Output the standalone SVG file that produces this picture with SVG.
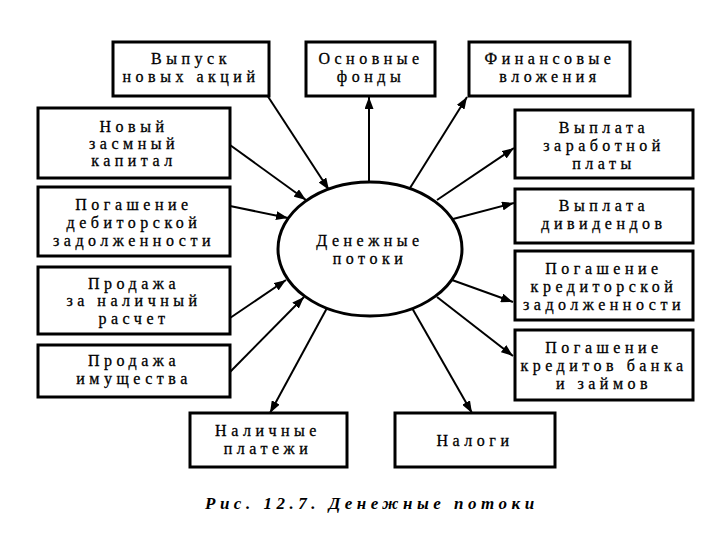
<svg xmlns="http://www.w3.org/2000/svg" width="720" height="540" viewBox="0 0 720 540" font-family="Liberation Serif, Times New Roman, serif">
<style>
.box{fill:#fff;stroke:#000;stroke-width:3}
.t{font-size:16px;letter-spacing:4.5px;text-anchor:middle;fill:#000;stroke:#000;stroke-width:0.3}
.c{stroke:#000;stroke-width:2;fill:none}
.cap{font-size:17px;font-weight:bold;font-style:italic;letter-spacing:4.5px;fill:#000}
</style>
<defs>
<marker id="ah" viewBox="0 0 12 9" refX="12" refY="4.5" markerWidth="12" markerHeight="9" markerUnits="userSpaceOnUse" orient="auto">
<path d="M0,0 L12,4.5 L0,9 Z" fill="#000"/>
</marker>
</defs>
<rect width="720" height="540" fill="#fff"/>
<g id="connectors">
<path class="c" d="M267,95 L329,190" marker-end="url(#ah)"/>
<path class="c" d="M369,182 L369,97" marker-end="url(#ah)"/>
<path class="c" d="M410,188 L467,97" marker-end="url(#ah)"/>
<path class="c" d="M230,145 L306,200" marker-end="url(#ah)"/>
<path class="c" d="M230,206 L288,218" marker-end="url(#ah)"/>
<path class="c" d="M230,318 L286,280" marker-end="url(#ah)"/>
<path class="c" d="M230,372 L304,297" marker-end="url(#ah)"/>
<path class="c" d="M437,200 L514,148" marker-end="url(#ah)"/>
<path class="c" d="M453,219 L514,203" marker-end="url(#ah)"/>
<path class="c" d="M452,280 L513,302" marker-end="url(#ah)"/>
<path class="c" d="M437,297 L513,356" marker-end="url(#ah)"/>
<path class="c" d="M327,308 L270,413" marker-end="url(#ah)"/>
<path class="c" d="M412,308 L472,413" marker-end="url(#ah)"/>
</g>
<g id="center">
<ellipse cx="370" cy="249" rx="92" ry="67" fill="#fff" stroke="#000" stroke-width="3"/>
<text class="t" x="370" y="246">Денежные</text>
<text class="t" x="370" y="264">потоки</text>
</g>
<g id="vypusk">
<rect class="box" x="113" y="42" width="156" height="54"/>
<text class="t" x="191" y="64">Выпуск</text>
<text class="t" x="191" y="82">новых акций</text>
</g>
<g id="osnovnye">
<rect class="box" x="306" y="42" width="129" height="54"/>
<text class="t" x="371" y="64">Основные</text>
<text class="t" x="371" y="82">фонды</text>
</g>
<g id="finansovye">
<rect class="box" x="469" y="42" width="161" height="54"/>
<text class="t" x="550" y="64">Финансовые</text>
<text class="t" x="550" y="82">вложения</text>
</g>
<g id="novyi">
<rect class="box" x="38" y="108" width="192" height="70"/>
<text class="t" x="134" y="132">Новый</text>
<text class="t" x="134" y="149">засмный</text>
<text class="t" x="134" y="166">капитал</text>
</g>
<g id="debitor">
<rect class="box" x="38" y="187" width="192" height="69"/>
<text class="t" x="134" y="210">Погашение</text>
<text class="t" x="134" y="228">дебиторской</text>
<text class="t" x="134" y="246">задолженности</text>
</g>
<g id="nalichnyi">
<rect class="box" x="38" y="267" width="192" height="67"/>
<text class="t" x="134" y="289">Продажа</text>
<text class="t" x="134" y="306">за наличный</text>
<text class="t" x="134" y="324">расчет</text>
</g>
<g id="imushestvo">
<rect class="box" x="38" y="345" width="192" height="52"/>
<text class="t" x="134" y="366">Продажа</text>
<text class="t" x="134" y="384">имущества</text>
</g>
<g id="zarplata">
<rect class="box" x="515" y="110" width="178" height="68"/>
<text class="t" x="604" y="133">Выплата</text>
<text class="t" x="604" y="151">заработной</text>
<text class="t" x="604" y="169">платы</text>
</g>
<g id="dividendy">
<rect class="box" x="515" y="189" width="178" height="54"/>
<text class="t" x="604" y="211">Выплата</text>
<text class="t" x="604" y="229">дивидендов</text>
</g>
<g id="kreditor">
<rect class="box" x="515" y="251" width="178" height="69"/>
<text class="t" x="604" y="274">Погашение</text>
<text class="t" x="604" y="292">кредиторской</text>
<text class="t" x="604" y="310">задолженности</text>
</g>
<g id="kredity">
<rect class="box" x="515" y="330" width="178" height="70"/>
<text class="t" x="604" y="353">Погашение</text>
<text class="t" x="604" y="371">кредитов банка</text>
<text class="t" x="604" y="389">и займов</text>
</g>
<g id="platezhi">
<rect class="box" x="190" y="413" width="157" height="54"/>
<text class="t" x="268" y="436">Наличные</text>
<text class="t" x="268" y="454">платежи</text>
</g>
<g id="nalogi">
<rect class="box" x="395" y="413" width="160" height="54"/>
<text class="t" x="475" y="446">Налоги</text>
</g>
<text class="cap" x="205" y="509">Рис. 12.7. Денежные потоки</text>
</svg>
